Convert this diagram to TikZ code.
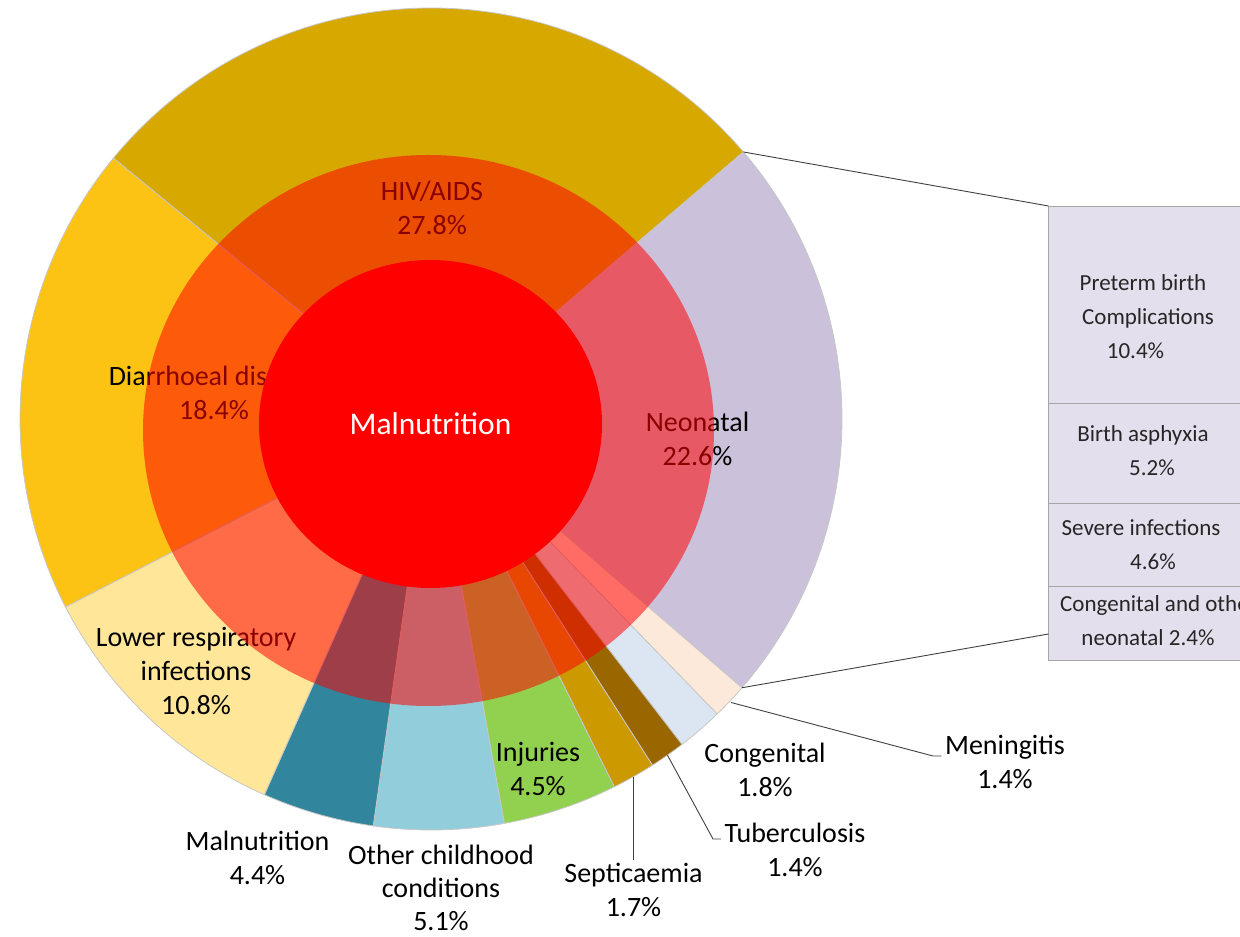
\documentclass[tikz,border=0pt]{standalone}
\usepackage{fontspec}
\setmainfont{Carlito}
\usetikzlibrary{positioning}

\definecolor{hivgold}{HTML}{D6A800}
\definecolor{neolilac}{HTML}{CCC1DA}
\definecolor{menpeach}{HTML}{FDE9D9}
\definecolor{congblue}{HTML}{DCE6F2}
\definecolor{tbbrown}{HTML}{996600}
\definecolor{sepgold}{HTML}{CC9900}
\definecolor{injgreen}{HTML}{92D050}
\definecolor{othblue}{HTML}{92CDDC}
\definecolor{malteal}{HTML}{31859C}
\definecolor{lriyellow}{HTML}{FFE699}
\definecolor{diaryellow}{HTML}{FCC315}
\definecolor{boxlilac}{HTML}{E4DFEC}

\tikzset{
  slice/.style={draw=black!22, line width=0.8pt},
  lbl/.style={align=center, font=\fontsize{28}{34}\selectfont},
  leader/.style={draw=black!75, line width=0.9pt},
  cellbox/.style={draw=black!35, line width=0.9pt, fill=boxlilac, minimum width=200pt,
    inner sep=0pt, outer sep=0pt, anchor=north west},
  celltext/.style={align=center, text=black!85, font=\fontsize{23}{34}\selectfont},
}

\begin{document}
\begin{tikzpicture}[x=1pt, y=1pt]
    \useasboundingbox (0,0) rectangle (1240,937);
    \clip (0,0) rectangle (1240,937);

    \coordinate (C) at (431,518);

    %% Outer ring
    % HIV/AIDS
    \draw[slice, fill=hivgold] (C) -- ++(40.52:411) arc[start angle=40.52, end angle=140.60, radius=411] -- cycle;
    % Neonatal
    \draw[slice, fill=neolilac] (C) -- ++(-40.84:411) arc[start angle=-40.84, end angle=40.52, radius=411] -- cycle;
    % Meningitis
    \draw[slice, fill=menpeach] (C) -- ++(-45.88:411) arc[start angle=-45.88, end angle=-40.84, radius=411] -- cycle;
    % Congenital
    \draw[slice, fill=congblue] (C) -- ++(-52.36:411) arc[start angle=-52.36, end angle=-45.88, radius=411] -- cycle;
    % Tuberculosis
    \draw[slice, fill=tbbrown] (C) -- ++(-57.40:411) arc[start angle=-57.40, end angle=-52.36, radius=411] -- cycle;
    % Septicaemia
    \draw[slice, fill=sepgold] (C) -- ++(-63.52:411) arc[start angle=-63.52, end angle=-57.40, radius=411] -- cycle;
    % Injuries
    \draw[slice, fill=injgreen] (C) -- ++(-79.72:411) arc[start angle=-79.72, end angle=-63.52, radius=411] -- cycle;
    % Other childhood conditions
    \draw[slice, fill=othblue] (C) -- ++(-98.08:411) arc[start angle=-98.08, end angle=-79.72, radius=411] -- cycle;
    % Malnutrition
    \draw[slice, fill=malteal] (C) -- ++(-113.92:411) arc[start angle=-113.92, end angle=-98.08, radius=411] -- cycle;
    % Lower respiratory infections
    \draw[slice, fill=lriyellow] (C) -- ++(-152.80:411) arc[start angle=-152.80, end angle=-113.92, radius=411] -- cycle;
    % Diarrhoeal disease
    \draw[slice, fill=diaryellow] (C) -- ++(-219.40:411) arc[start angle=-219.40, end angle=-152.80, radius=411] -- cycle;

    % Points on the rim
    \path (C) ++(40.52:411) coordinate (hivEdge);
    \path (C) ++(-40.84:411) coordinate (neoEdge);
    \path (C) ++(-43.36:413) coordinate (menEdge);
    \path (C) ++(-54.88:411) coordinate (tbEdge);
    \path (C) ++(-60.46:411) coordinate (sepEdge);

    % Labels inside the ring (under the red layer)
    \node[lbl] (diarLabel) at (214,544) {Diarrhoeal disease\\18.4\%};
    \node[lbl] (hivLabel) at (432,729) {HIV/AIDS\\27.8\%};
    \node[lbl] (neoLabel) at (697.5,498) {Neonatal\\22.6\%};
    \node[lbl] (lriLabel) at (196,266) {Lower respiratory\\infections\\10.8\%};
    \node[lbl] (injLabel) at (538,168) {Injuries\\4.5\%};

    %% Malnutrition layers
    \fill[red, opacity=0.534] (428.5,506.5) ellipse[x radius=285.5, y radius=275.5];
    \fill[red] (430.5,513) ellipse[x radius=171.5, y radius=164];
    \node[text=white, font=\fontsize{31.5}{38}\selectfont] (centreLabel) at (430.5,513) {Malnutrition};

    % Labels outside the ring
    \node[lbl] (malLabel) at (257.5,79.5) {Malnutrition\\4.4\%};
    \node[lbl, font=\fontsize{28}{33}\selectfont] (othLabel) at (441,49) {Other childhood\\conditions\\5.1\%};
    \node[lbl] (sepLabel) at (633.5,47) {Septicaemia\\1.7\%};
    \node[lbl] (tbLabel) at (795,87.5) {Tuberculosis\\1.4\%};
    \node[lbl] (congLabel) at (765,167) {Congenital\\1.8\%};
    \node[lbl] (menLabel) at (1005,175) {Meningitis\\1.4\%};

    % Leader lines
    \draw[leader] (sepEdge) -- (sepEdge |- sepLabel.north);
    \coordinate (tbBend) at (713,98);
    \draw[leader] (tbEdge) -- (tbBend) -- (tbBend -| tbLabel.west);
    \coordinate (menBend) at (933,181);
    \draw[leader] (menEdge) -- (menBend) -- (menBend -| menLabel.west);

    %% Breakdown of neonatal deaths
    \node[cellbox, minimum height=197pt] (pretermCell) at (1048.5,731) {};
    \node[cellbox, minimum height=100pt] (asphyxiaCell) at (pretermCell.south west) {};
    \node[cellbox, minimum height=83pt] (infectCell) at (asphyxiaCell.south west) {};
    \node[cellbox, minimum height=74pt] (otherCell) at (infectCell.south west) {};

    \node[celltext] (pretermText) at (1143,620) {Preterm birth\\\hspace*{10pt}Complications\\10.4\%\hspace*{15pt}};
    \node[celltext] (asphyxiaText) at (1143,486) {Birth asphyxia\\\hspace*{18pt}5.2\%};
    \node[celltext] (infectText) at (1141,392.5) {Severe infections\\\hspace*{24pt}4.6\%};
    \node[celltext] (otherText) at (1158.5,316) {Congenital and other\\neonatal 2.4\%\hspace*{21pt}};

    % Callout to the box
    \draw[leader] (hivEdge) -- (pretermCell.north west);
    \draw[leader] (neoEdge) -- ([yshift=-11pt]otherCell.west);

\end{tikzpicture}
\end{document}
